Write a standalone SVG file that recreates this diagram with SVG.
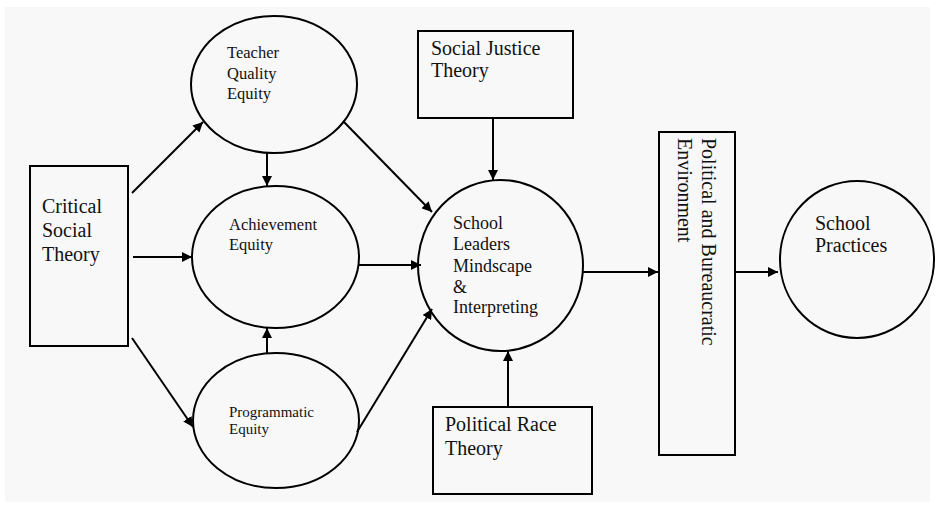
<svg xmlns="http://www.w3.org/2000/svg" width="935" height="507" viewBox="0 0 935 507">
  <style>
    .shape { fill: none; stroke: #000; stroke-width: 2; }
    .link { fill: none; stroke: #000; stroke-width: 2; }
    .lbl { font-family: "Liberation Serif", "Times New Roman", serif; fill: #111; }
  </style>
  <defs>
    <marker id="arrow" viewBox="0 0 10 10" refX="10" refY="5" markerWidth="5" markerHeight="5" markerUnits="strokeWidth" orient="auto">
      <path d="M0,0 L10,5 L0,10 z" fill="#000"/>
    </marker>
  </defs>

  <rect x="0" y="0" width="935" height="507" fill="#ffffff"/>
  <rect x="5" y="7" width="925" height="495" fill="#f8f8f8"/>

  <!-- connectors -->
  <g id="connectors" class="link" marker-end="url(#arrow)">
    <line x1="132" y1="193" x2="203" y2="122"/>
    <line x1="133" y1="257" x2="192" y2="257"/>
    <line x1="132" y1="338" x2="193" y2="427"/>
    <line x1="267" y1="153" x2="267" y2="186"/>
    <line x1="267" y1="353" x2="267" y2="328"/>
    <line x1="343" y1="121" x2="432" y2="212"/>
    <line x1="359" y1="265" x2="421" y2="265"/>
    <line x1="357" y1="432" x2="432" y2="309"/>
    <line x1="493" y1="118" x2="493" y2="180"/>
    <line x1="508" y1="407" x2="508" y2="351"/>
    <line x1="583" y1="272" x2="658" y2="272"/>
    <line x1="735" y1="272" x2="778" y2="272"/>
  </g>

  <g id="critical-social-theory">
    <rect class="shape" x="30" y="166" width="98" height="180"/>
    <text class="lbl" font-size="20" x="42" y="213">Critical<tspan x="42" dy="24">Social</tspan><tspan x="42" dy="24">Theory</tspan></text>
  </g>

  <g id="teacher-quality-equity">
    <ellipse class="shape" cx="274" cy="84.5" rx="83" ry="68.5"/>
    <text class="lbl" font-size="16.5" x="227" y="58">Teacher<tspan x="227" dy="20.5">Quality</tspan><tspan x="227" dy="20.5">Equity</tspan></text>
  </g>

  <g id="achievement-equity">
    <ellipse class="shape" cx="275.5" cy="257" rx="83.5" ry="71"/>
    <text class="lbl" font-size="16.5" x="229" y="230">Achievement<tspan x="229" dy="20">Equity</tspan></text>
  </g>

  <g id="programmatic-equity">
    <ellipse class="shape" cx="276" cy="420.5" rx="83" ry="67.5"/>
    <text class="lbl" font-size="15" x="229" y="417">Programmatic<tspan x="229" dy="16.5">Equity</tspan></text>
  </g>

  <g id="social-justice-theory">
    <rect class="shape" x="418" y="31" width="155" height="87"/>
    <text class="lbl" font-size="20" x="431" y="55">Social Justice<tspan x="431" dy="22">Theory</tspan></text>
  </g>

  <g id="school-leaders">
    <ellipse class="shape" cx="500.5" cy="265.5" rx="82.5" ry="85.5"/>
    <text class="lbl" font-size="18" x="453" y="229">School<tspan x="453" dy="21">Leaders</tspan><tspan x="453" dy="21.5">Mindscape</tspan><tspan x="453" dy="21">&amp;</tspan><tspan x="453" dy="20.5">Interpreting</tspan></text>
  </g>

  <g id="political-race-theory">
    <rect class="shape" x="433" y="407" width="159" height="87"/>
    <text class="lbl" font-size="20" x="445" y="431">Political Race<tspan x="445" dy="24">Theory</tspan></text>
  </g>

  <g id="political-bureaucratic-environment">
    <rect class="shape" x="659" y="132" width="76" height="323"/>
    <text class="lbl" font-size="20" transform="translate(702,138) rotate(90)" x="0" y="0">Political and Bureaucratic<tspan x="0" dy="24">Environment</tspan></text>
  </g>

  <g id="school-practices">
    <ellipse class="shape" cx="857" cy="259.5" rx="77" ry="78.5"/>
    <text class="lbl" font-size="20" x="815" y="230">School<tspan x="815" dy="22">Practices</tspan></text>
  </g>
</svg>
